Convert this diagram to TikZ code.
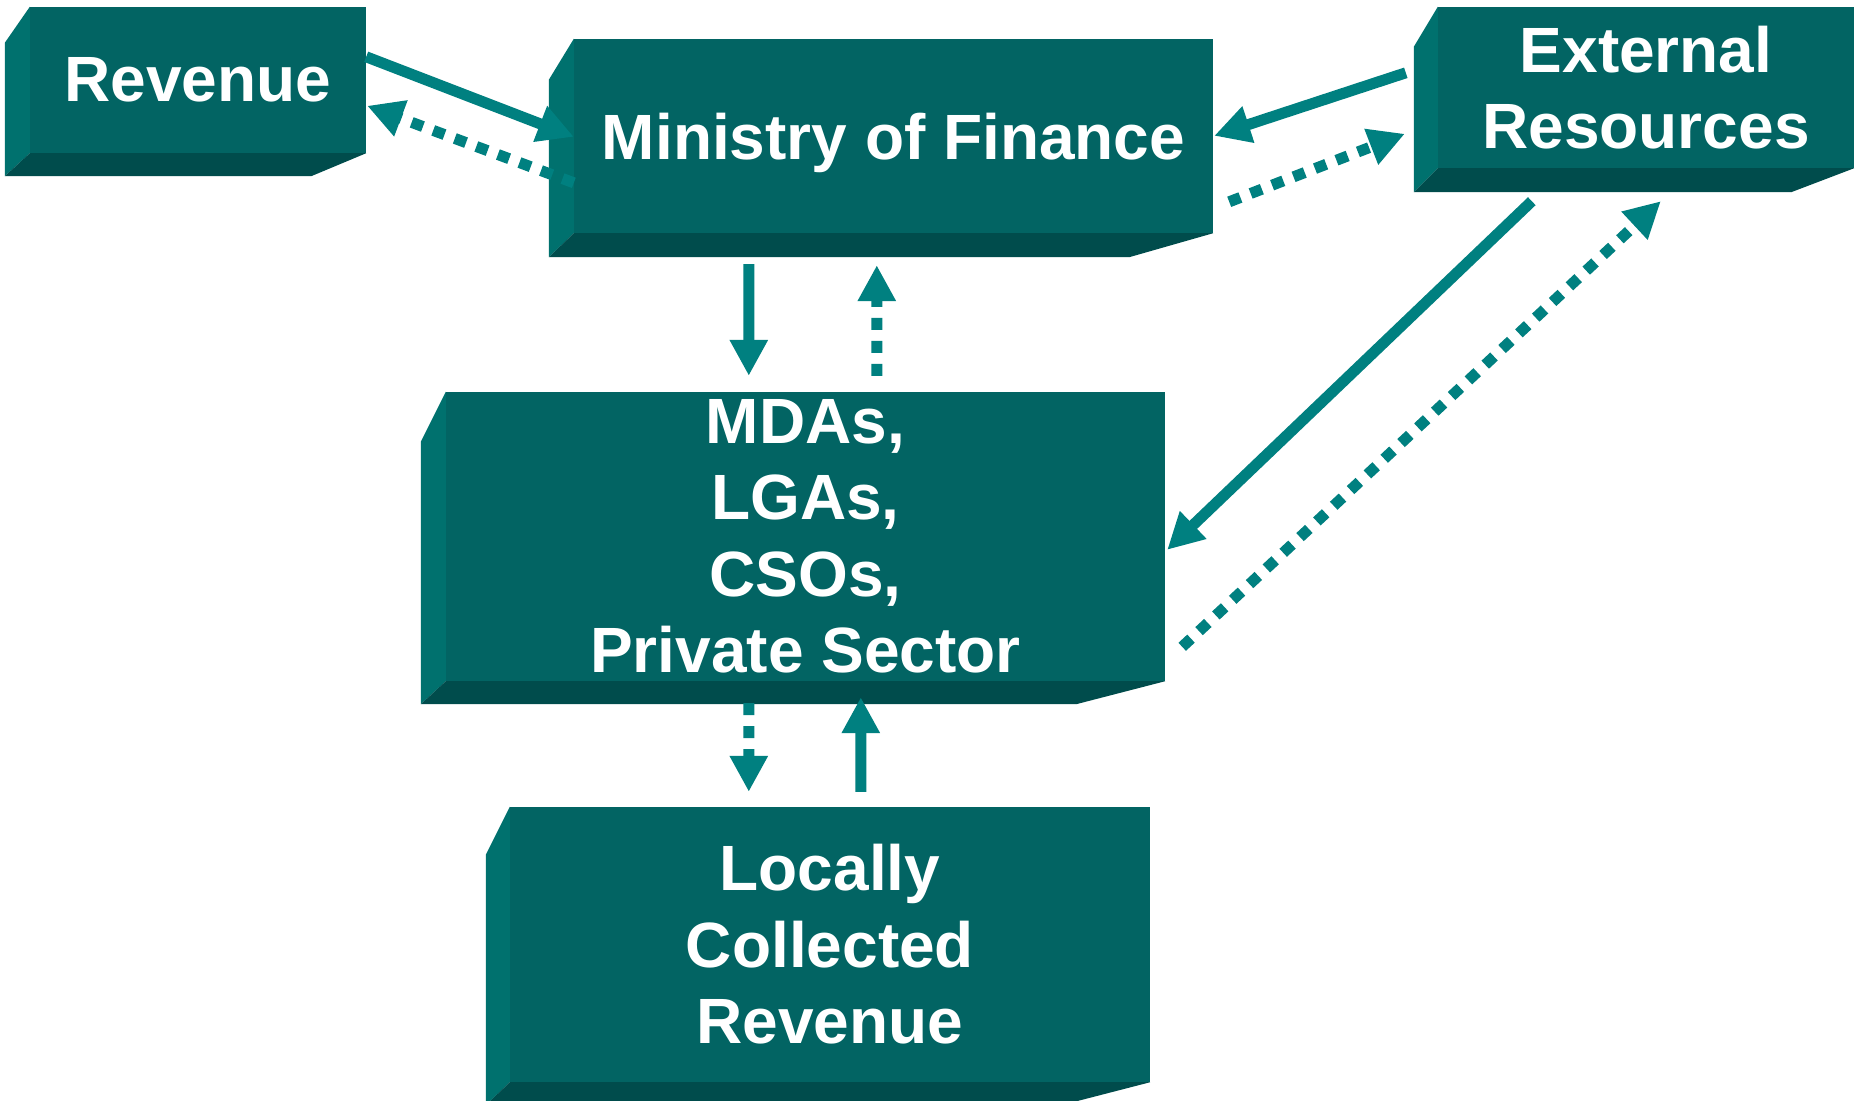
\documentclass[tikz,border=0pt]{standalone}
\usepackage{fontspec}
\setmainfont{Liberation Sans}
\usetikzlibrary{arrows.meta,calc}
\definecolor{facecol}{RGB}{2,100,99}
\definecolor{lsidecol}{RGB}{0,113,110}
\definecolor{bsidecol}{RGB}{0,76,76}
\definecolor{arrcol}{RGB}{0,128,128}
\newcommand\bevelbox[5]{%
  \fill[lsidecol] ($(#1.north west)+(-#2,#3)$) -- (#1.north west) -- (#1.south west) -- ($(#1.south west)+(-#2,#4)$) -- cycle;
  \fill[bsidecol] ($(#1.south west)+(-#2,#4)$) -- (#1.south west) -- (#1.south east) -- ($(#1.south east)+(-#5,#4)$) -- cycle;}
\begin{document}
\begin{tikzpicture}[x=1bp,y=-1bp,
  facebox/.style={rectangle, fill=facecol, inner sep=0pt, text=white, align=center,
    font=\fontsize{64bp}{76.5bp}\selectfont\bfseries},
  solidarrow/.style={draw=arrcol, line width=11bp, -{Triangle[width=36bp,length=36bp]}},
  dotarrow/.style={solidarrow, dash pattern=on 12bp off 11bp}]
\useasboundingbox (0,0) rectangle (1859,1100);
\fill[white] (0,0) rectangle (1859,1100);

\node[facebox, minimum width=336bp, minimum height=146bp] (rev) at (198,80) {Revenue};
\node[facebox, minimum width=639bp, minimum height=194bp, text depth=0bp] (mof) at (893.5,136) {Ministry of Finance};
\node[facebox, minimum width=416bp, minimum height=161bp] (ext) at (1646,87.5) {External\\Resources};
\node[facebox, minimum width=719bp, minimum height=289bp] (mda) at (805.5,536.5) {MDAs,\\LGAs,\\CSOs,\\Private Sector};
\node[facebox, minimum width=640bp, minimum height=275bp] (lcr) at (830,944.5) {Locally\\Collected\\Revenue};

\bevelbox{rev}{25}{36}{23}{55}
\bevelbox{mof}{25}{41}{24}{84}
\bevelbox{ext}{24}{40}{24}{63}
\bevelbox{mda}{25}{50}{23}{89}
\bevelbox{lcr}{24}{48}{23}{89}

% Revenue <-> Ministry
\draw[solidarrow] ($(rev.north east)+(0,50)$) -- ($(mof.north west)+(0,98)$);
\draw[dotarrow] ($(mof.north west)+(0,144)$) -- ($(rev.north east)+(1,99)$);
% External <-> Ministry
\draw[solidarrow] ($(ext.north west)+(-32,66)$) -- ($(mof.north east)+(1,97)$);
\draw[dotarrow] ($(mof.north east)+(16,163)$) -- ($(ext.north west)+(-33,127)$);
% Ministry <-> MDAs
\draw[solidarrow] ($(mof.south west)+(175,31)$) -- ($(mda.north west)+(303,-16)$);
\draw[dotarrow] ($(mda.north west)+(431,-16)$) -- ($(mof.south west)+(303,32)$);
% MDAs <-> Locally collected
\draw[dotarrow] ($(mda.south west)+(303,22)$) -- ($(lcr.north west)+(239,-15)$);
\draw[solidarrow] ($(lcr.north west)+(351,-15)$) -- ($(mda.south west)+(415,16)$);
% External <-> MDAs
\draw[solidarrow] ($(ext.south west)+(94,33)$) -- ($(mda.north east)+(2,158)$);
\draw[dotarrow] ($(mda.north east)+(17,255)$) -- ($(ext.south west)+(223,33)$);
\end{tikzpicture}
\end{document}
